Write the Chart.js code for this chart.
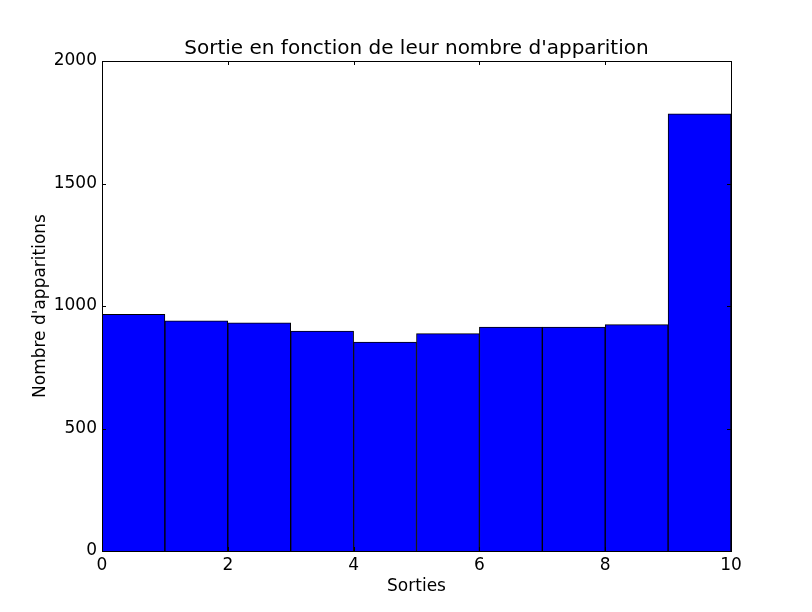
<!DOCTYPE html>
<html>
<head>
<meta charset="utf-8">
<script src="https://cdn.jsdelivr.net/npm/chart.js@4/dist/chart.umd.min.js"></script>
<style>
  html, body { margin: 0; padding: 0; background: #fff; }
  #wrap { width: 812px; height: 612px; position: relative; }
</style>
</head>
<body>
<div id="wrap"><canvas id="chart"></canvas></div>
<script>
// histogram bins (left edges) and counts
const binStarts = [0, 1, 2, 3, 4, 5, 6, 7, 8, 9];
const counts = [966, 939, 931, 898, 853, 887, 914, 914, 924, 1784];
const xTicks = [0, 2, 4, 6, 8, 10];
const yTicks = [0, 500, 1000, 1500, 2000];
const titleText = "Sortie en fonction de leur nombre d'apparition";

const FONT = "'DejaVu Sans', sans-serif";

// matplotlib classic style: black frame, inward ticks on all four sides,
// title centred over the plot area
const frameTicks = {
  id: "frameTicks",
  afterDatasetsDraw(chart) {
    const { ctx, chartArea: a, scales } = chart;
    ctx.save();
    ctx.strokeStyle = "#000";
    ctx.lineWidth = 1;
    ctx.beginPath();
    xTicks.forEach((v) => {
      const x = Math.round(scales.x.getPixelForValue(v)) + 0.5;
      ctx.moveTo(x, a.bottom); ctx.lineTo(x, a.bottom - 4);
      ctx.moveTo(x, a.top); ctx.lineTo(x, a.top + 4);
    });
    yTicks.forEach((v) => {
      const y = Math.round(scales.y.getPixelForValue(v)) + 0.5;
      ctx.moveTo(a.left, y); ctx.lineTo(a.left + 4, y);
      ctx.moveTo(a.right, y); ctx.lineTo(a.right - 4, y);
    });
    ctx.stroke();
    ctx.strokeRect(Math.round(a.left) + 0.5, Math.round(a.top) + 0.5,
      Math.round(a.right - a.left), Math.round(a.bottom - a.top));

    ctx.fillStyle = "#000";
    ctx.font = "20px " + FONT;
    ctx.textAlign = "center";
    ctx.textBaseline = "middle";
    ctx.fillText(titleText, (a.left + a.right) / 2, a.top - 12);
    ctx.restore();
  },
};

new Chart(document.getElementById("chart"), {
  type: "bar",
  data: {
    datasets: [
      {
        data: binStarts.map((b, i) => ({ x: b + 0.5, y: counts[i] })),
        backgroundColor: "#0000ff",
        borderColor: "#000",
        borderWidth: 1,
        barPercentage: 1,
        categoryPercentage: 1,
      },
    ],
  },
  options: {
    responsive: true,
    maintainAspectRatio: false,
    animation: false,
    layout: { padding: { left: 0, right: 81, top: 61, bottom: 0 } },
    plugins: {
      legend: { display: false },
      tooltip: { enabled: false },
      title: { display: false },
    },
    scales: {
      x: {
        type: "linear",
        min: 0,
        max: 10,
        offset: false,
        afterBuildTicks: (s) => { s.ticks = xTicks.map((v) => ({ value: v })); },
        afterFit: (s) => { s.height = 61; },
        grid: { display: false, drawTicks: false },
        border: { display: false },
        ticks: { color: "#000", padding: 4, maxRotation: 0, font: { family: FONT, size: 17 } },
        title: {
          display: true,
          text: "Sorties",
          color: "#000",
          font: { family: FONT, size: 17 },
          padding: { top: 2, bottom: 15 },
        },
      },
      y: {
        min: 0,
        max: 2000,
        afterBuildTicks: (s) => { s.ticks = yTicks.map((v) => ({ value: v })); },
        afterFit: (s) => { s.width = 102; },
        grid: { display: false, drawTicks: false },
        border: { display: false },
        ticks: {
          color: "#000",
          padding: 5,
          font: { family: FONT, size: 17 },
          callback: (v) => String(v),
        },
        title: {
          display: true,
          text: "Nombre d'apparitions",
          color: "#000",
          font: { family: FONT, size: 17 },
          padding: { top: 30, bottom: 4 },
        },
      },
    },
  },
  plugins: [frameTicks],
});
</script>
</body>
</html>
